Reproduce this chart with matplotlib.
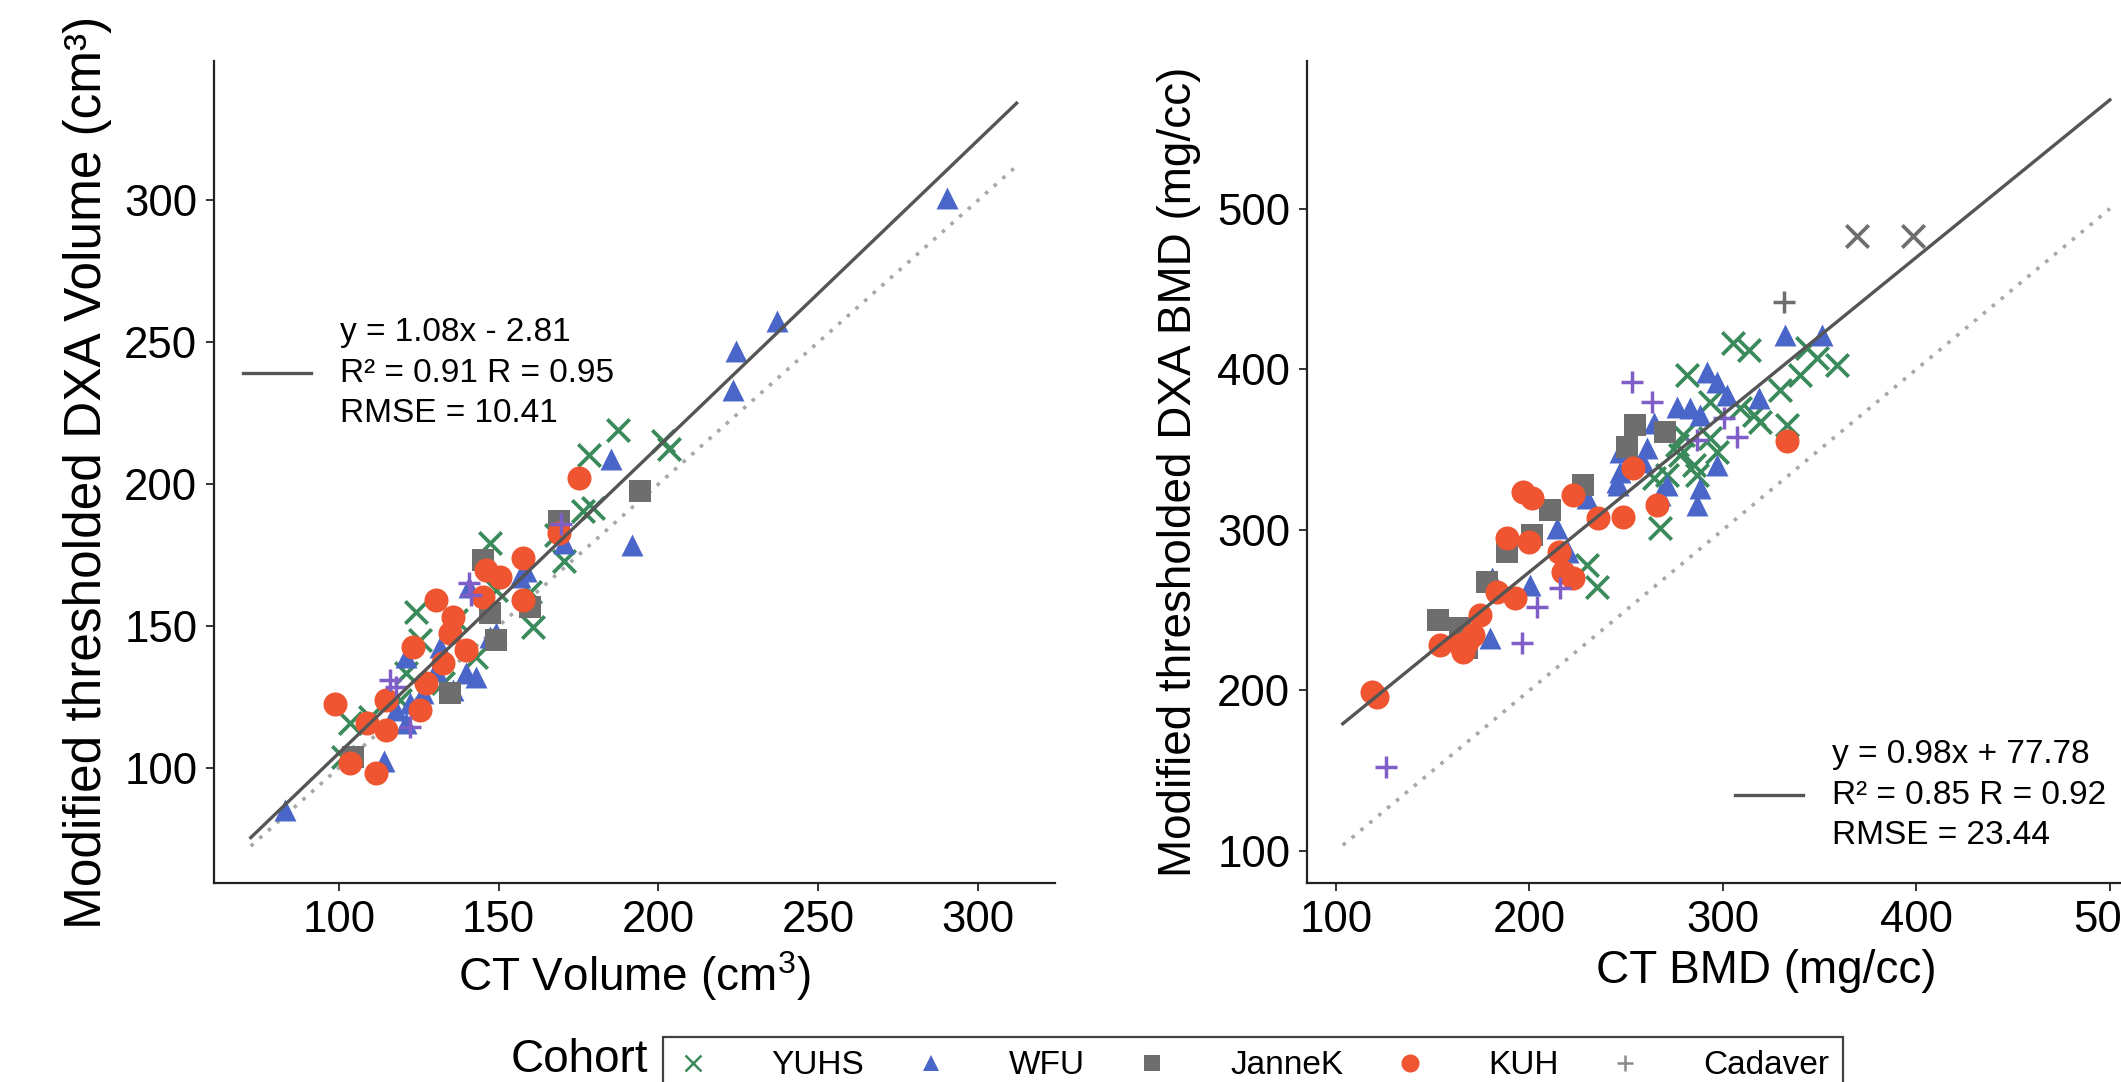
import matplotlib
matplotlib.use("Agg")
import matplotlib.pyplot as plt
from matplotlib.lines import Line2D
import numpy as np

plt.rcParams['font.family'] = ['Liberation Sans', 'DejaVu Sans']
plt.rcParams['mathtext.fontset'] = 'custom'
plt.rcParams['mathtext.rm'] = 'Liberation Sans'
plt.rcParams['mathtext.it'] = 'Liberation Sans:italic'

# ---------------- data: volume panel ----------------
vol_yuhs_x = [187.4, 178.4, 201.4, 203.2, 176.5, 179.5, 170.6, 168.0, 147.2, 159.7, 160.7, 124.3, 125.3, 136.8, 149.3, 143.0, 132.6, 121.1, 119.1, 109.7, 103.4, 101.4]
vol_yuhs_y = [219.0, 210.2, 215.0, 212.4, 190.5, 191.5, 172.9, 182.0, 179.1, 162.1, 149.8, 155.0, 145.1, 152.1, 162.7, 139.2, 129.8, 133.3, 124.0, 118.1, 115.7, 104.0]
vol_wfu_x = [290.1, 237.2, 224.3, 223.2, 185.2, 191.8, 170.3, 83.3, 114.3, 156.6, 158.5, 140.9, 147.2, 149.3, 121.1, 131.6, 130.5, 139.9, 143.0, 135.7, 126.4, 122.2, 118.0, 121.1]
vol_wfu_y = [300.8, 257.3, 246.8, 233.3, 208.9, 178.5, 179.3, 85.2, 102.5, 167.4, 169.5, 163.8, 146.2, 147.4, 139.2, 142.7, 134.5, 133.3, 132.2, 127.5, 126.3, 122.8, 120.4, 115.7]
vol_jannek_x = [194.2, 169.0, 145.1, 147.2, 149.3, 159.7, 134.7, 104.5]
vol_jannek_y = [197.6, 187.1, 173.2, 154.5, 145.1, 156.8, 126.3, 104.0]
vol_kuh_x = [175.3, 169.0, 157.6, 146.2, 150.3, 130.5, 157.6, 135.7, 145.1, 123.2, 134.7, 139.9, 132.6, 127.4, 114.9, 125.3, 108.7, 114.9, 98.7, 103.4, 111.8]
vol_kuh_y = [202.1, 182.9, 173.8, 169.7, 167.4, 159.2, 159.2, 153.3, 160.3, 142.7, 147.4, 141.5, 136.9, 129.8, 124.0, 120.4, 115.7, 113.4, 122.5, 101.6, 98.2]
vol_cad_x = [140.9, 116.0, 122.2, 118.0, 141.5, 169.5]
vol_cad_y = [165.0, 131.0, 114.6, 128.6, 161.0, 186.0]

# ---------------- data: BMD panel ----------------
bmd_yuhs_x = [229.6, 234.8, 305.4, 313.2, 281.3, 343.4, 348.5, 358.9, 339.9, 329.6, 293.4, 308.9, 315.8, 319.2, 333.0, 279.6, 293.4, 296.8, 277.9, 284.8, 271.0, 264.1, 286.5, 267.5, 276.1]
bmd_yuhs_y = [278.1, 264.6, 416.2, 412.0, 396.5, 413.1, 406.8, 402.7, 396.5, 387.1, 379.9, 375.7, 371.6, 367.4, 365.3, 359.1, 357.0, 348.7, 346.6, 340.4, 334.2, 332.1, 334.2, 301.0, 352.9]
bmd_wfu_x = [179.6, 180.5, 200.3, 214.1, 220.1, 229.6, 245.1, 246.8, 332.2, 351.1, 291.7, 296.8, 302.0, 276.1, 283.0, 288.2, 264.1, 318.4, 260.6, 246.8, 246.0, 258.9, 271.0, 267.5, 288.2, 286.5, 296.8]
bmd_wfu_y = [232.4, 269.8, 265.7, 300.9, 286.4, 319.6, 330.0, 348.7, 421.4, 421.4, 398.5, 392.3, 384.0, 376.7, 375.7, 371.6, 366.4, 381.9, 350.8, 336.3, 328.0, 342.5, 328.0, 321.7, 325.9, 315.5, 340.4]
bmd_jannek_x = [152.9, 164.1, 167.6, 177.9, 188.2, 201.2, 210.6, 227.9, 254.6, 270.1, 250.3]
bmd_jannek_y = [243.9, 238.7, 226.2, 267.7, 286.4, 296.8, 312.4, 327.9, 365.3, 361.2, 351.8]
bmd_kuh_x = [118.5, 121.0, 153.8, 164.1, 167.6, 171.0, 165.8, 174.5, 183.1, 192.6, 188.2, 199.5, 196.9, 201.2, 215.0, 217.5, 222.7, 222.7, 235.5, 248.5, 333.0, 253.7, 265.8]
bmd_kuh_y = [199.0, 196.0, 228.3, 228.3, 230.4, 234.5, 224.1, 247.0, 261.5, 257.4, 294.7, 292.6, 323.8, 319.6, 286.4, 274.0, 269.8, 321.7, 307.2, 308.0, 355.0, 338.3, 315.5]
bmd_cad_x = [125.8, 196.0, 203.8, 215.8, 252.9, 263.2, 307.2, 300.3, 286.5]
bmd_cad_y = [152.0, 229.3, 252.2, 263.6, 392.3, 379.9, 358.1, 369.5, 356.0]
bmd_grey_x_x = [369.4, 398.2]
bmd_grey_x_y = [483.2, 483.2]
bmd_grey_plus_x = [331.3]
bmd_grey_plus_y = [442.1]

vol_fit = (1.08, -2.81)
bmd_fit = (0.98, 77.78)
vol_fit_label = "y = 1.08x - 2.81\nR\u00b2 = 0.91 R = 0.95\nRMSE = 10.41"
bmd_fit_label = "y = 0.98x + 77.78\nR\u00b2 = 0.85 R = 0.92\nRMSE = 23.44"
vol_line_range = (72.5, 312.0)
bmd_line_range = (103.5, 500.0)

cohorts = ["YUHS", "WFU", "JanneK", "KUH", "Cadaver"]

C_YUHS = '#3a8a5c'
C_WFU = '#4a66c8'
C_JAN = '#6e6e6e'
C_KUH = '#ee5530'
C_CAD = '#7f5fc7'
C_CADLEG = '#8a8a8a'

W, H = 2121, 1082
fig = plt.figure(figsize=(W / 100, H / 100), dpi=100)

def frac(l, t, r, b):
    return [l / W, 1 - b / H, (r - l) / W, (b - t) / H]

ax1 = fig.add_axes(frac(214, 61, 1055, 883))
ax2 = fig.add_axes(frac(1307, 61, 2226, 883))

def scatter_panel(ax, d):
    ax.scatter(d['yuhs'][0], d['yuhs'][1], marker='x', s=260, linewidths=2.7, color=C_YUHS, zorder=3)
    ax.scatter(d['wfu'][0], d['wfu'][1], marker='^', s=250, color=C_WFU, linewidths=0, zorder=3)
    ax.scatter(d['jan'][0], d['jan'][1], marker='s', s=230, color=C_JAN, linewidths=0, zorder=3)
    ax.scatter(d['kuh'][0], d['kuh'][1], marker='o', s=300, color=C_KUH, linewidths=0, zorder=3)
    ax.scatter(d['cad'][0], d['cad'][1], marker='+', s=260, linewidths=2.5, color=C_CAD, zorder=3)

scatter_panel(ax1, {'yuhs': (vol_yuhs_x, vol_yuhs_y), 'wfu': (vol_wfu_x, vol_wfu_y),
                    'jan': (vol_jannek_x, vol_jannek_y), 'kuh': (vol_kuh_x, vol_kuh_y),
                    'cad': (vol_cad_x, vol_cad_y)})
scatter_panel(ax2, {'yuhs': (bmd_yuhs_x, bmd_yuhs_y), 'wfu': (bmd_wfu_x, bmd_wfu_y),
                    'jan': (bmd_jannek_x, bmd_jannek_y), 'kuh': (bmd_kuh_x, bmd_kuh_y),
                    'cad': (bmd_cad_x, bmd_cad_y)})
ax2.scatter(bmd_grey_x_x, bmd_grey_x_y, marker='x', s=260, linewidths=2.7, color=C_JAN, zorder=3)
ax2.scatter(bmd_grey_plus_x, bmd_grey_plus_y, marker='+', s=260, linewidths=2.5, color=C_JAN, zorder=3)

def fit_lines(ax, fit, rng, label):
    xs = np.array(rng)
    ax.plot(xs, xs, linestyle=(0, (1, 2.2)), color='#a8a8a8', lw=2.6, zorder=2)
    ln, = ax.plot(xs, fit[0] * xs + fit[1], color='#555555', lw=2.4, zorder=4, label=label)
    return ln

l1 = fit_lines(ax1, vol_fit, vol_line_range, vol_fit_label)
l2 = fit_lines(ax2, bmd_fit, bmd_line_range, bmd_fit_label)

ax1.set_xlim(61, 324)
ax1.set_ylim(59.5, 349)
ax1.set_xticks([100, 150, 200, 250, 300])
ax1.set_yticks([100, 150, 200, 250, 300])
ax2.set_xlim(85, 560)
ax2.set_ylim(80, 592)
ax2.set_xticks([100, 200, 300, 400, 500])
ax2.set_yticks([100, 200, 300, 400, 500])

for ax in (ax1, ax2):
    for s in ('top', 'right'):
        ax.spines[s].set_visible(False)
    for s in ('left', 'bottom'):
        ax.spines[s].set_linewidth(1.6)
        ax.spines[s].set_color('#222222')
    ax.tick_params(axis='both', labelsize=31.5, length=6, width=1.4, color='#333333', pad=6)

ax1.set_xlabel("CT Volume (cm$^3$)", fontsize=33, labelpad=6)
ax1.set_ylabel("Modified thresholded DXA Volume (cm\u00b3)", fontsize=37, labelpad=9)
ax2.set_xlabel("CT BMD (mg/cc)", fontsize=33, labelpad=6)
ax2.set_ylabel("Modified thresholded DXA BMD (mg/cc)", fontsize=33, labelpad=12)

leg1 = fig.legend(handles=[l1], labels=[vol_fit_label], loc='center left',
                  bbox_to_anchor=(243 / W, 1 - 373 / H), frameon=False, fontsize=24,
                  handlelength=2.05, handletextpad=0.85, borderpad=0, borderaxespad=0)
leg2 = fig.legend(handles=[l2], labels=[bmd_fit_label], loc='center left',
                  bbox_to_anchor=(1735 / W, 1 - 795 / H), frameon=False, fontsize=24,
                  handlelength=2.05, handletextpad=0.85, borderpad=0, borderaxespad=0)
for lg in (leg1, leg2):
    for t in lg.get_texts():
        t.set_linespacing(1.38)

handles = [
    Line2D([], [], marker='x', linestyle='none', color=C_YUHS, markersize=11, markeredgewidth=1.8),
    Line2D([], [], marker='^', linestyle='none', color=C_WFU, markersize=12, markeredgewidth=0),
    Line2D([], [], marker='s', linestyle='none', color=C_JAN, markersize=12, markeredgewidth=0),
    Line2D([], [], marker='o', linestyle='none', color=C_KUH, markersize=13, markeredgewidth=0),
    Line2D([], [], marker='+', linestyle='none', color=C_CADLEG, markersize=12, markeredgewidth=1.8),
]
leg3 = fig.legend(handles=handles, labels=cohorts, ncol=5, loc='upper left',
                  bbox_to_anchor=(663 / W, 1 - 1037 / H), frameon=True, fontsize=24,
                  handlelength=1.0, handletextpad=1.85, columnspacing=1.5,
                  borderpad=0.4, borderaxespad=0, fancybox=False)
leg3.get_frame().set_edgecolor('#111111')
leg3.get_frame().set_linewidth(1.6)
fig.text(579 / W, 1 - 1060 / H, "Cohort", fontsize=33, ha='center', va='center')

fig.savefig("out.png", dpi=100, facecolor='white')
